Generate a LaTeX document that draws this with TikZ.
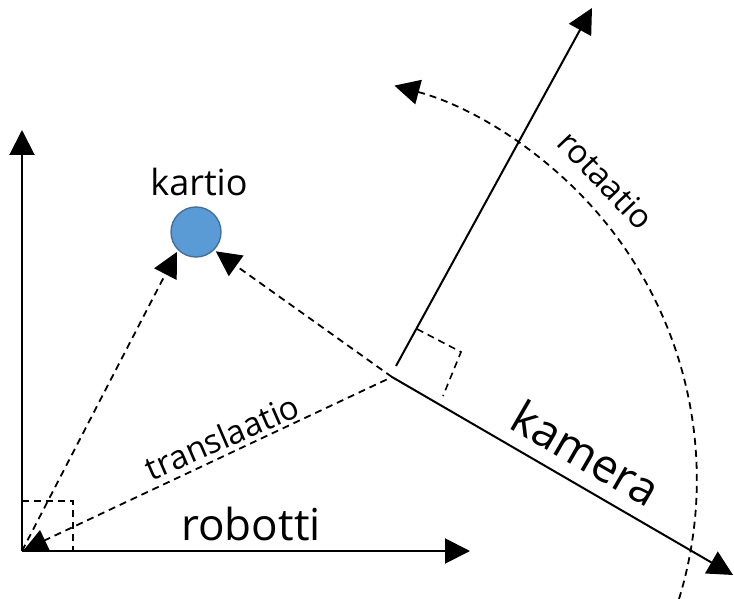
\documentclass[tikz,border=0pt]{standalone}
\usepackage{fontspec}
\setmainfont{Open Sans}
\usepackage{tikz}
\usetikzlibrary{arrows.meta, calc}

\definecolor{coneblue}{RGB}{91,155,213}
\definecolor{coneedge}{RGB}{65,113,156}

\begin{document}
\begin{tikzpicture}[x=1pt, y=-1pt,
    axis/.style={-{Triangle[length=25pt,width=25pt]}, line width=2pt},
    dline/.style={line width=1.8pt, dash pattern=on 7pt off 5pt},
    darrow/.style={dline, -{Triangle[length=25pt,width=25pt]}},
    lbl/.style={font=\fontsize{#1}{#1}\selectfont, inner sep=0pt}
]
    \useasboundingbox (0,0) rectangle (734,599);

    \coordinate (rob)     at (22,551);
    \coordinate (robx)    at (470,551);
    \coordinate (roby)    at (22,130);
    \coordinate (cam)     at (392,377);
    \coordinate (camfoot) at (396,366);
    \coordinate (camx)    at (733,575);
    \coordinate (camy)    at (592,8);
    \coordinate (rotend)  at (679,599);

    \node[circle, minimum size=50pt, inner sep=0pt, fill=coneblue, draw=coneedge, line width=1.4pt] (kartio) at (196,232) {};
    \node[lbl=36] (kartiolbl) at (199,182) {kartio};
    \node[lbl=44] (robotti) at (251,524) {robotti};
    \node[lbl=46, rotate=-30] (kamera) at (586,453) {kamera};
    \node[lbl=33, rotate=23.5] (translaatio) at (222,437) {translaatio};
    \node[lbl=33, rotate=-46.5] (rotaatio) at (606,180) {rotaatio};

    \foreach \i/\j in {rob/roby, rob/robx, cam/camx, camfoot/camy} {
        \draw[axis] (\i) -- (\j);
    }

    % right angles
    \draw[dline, line width=1.6pt] ($(rob)+(0,-50)$) -- ++(51,0) -- ++(0,50);
    \draw[dline, line width=1.6pt] ($(cam)+(25,-48)$) -- ($(cam)+(69,-25)$) -- ($(cam)+(51,19)$);
    \fill ($(rob)+(1,0)$) -- ++(27,0) -- ++(-10,-21) -- cycle;

    \draw[dline] (rob) -- (cam);
    \draw[darrow, shorten >=2pt] (rob) -- (kartio.south west);
    \draw[darrow, shorten >=2pt] (cam) -- (kartio.south east);
    \draw[darrow] (rotend) arc[start angle=-17, end angle=75, radius=408pt];
\end{tikzpicture}
\end{document}
